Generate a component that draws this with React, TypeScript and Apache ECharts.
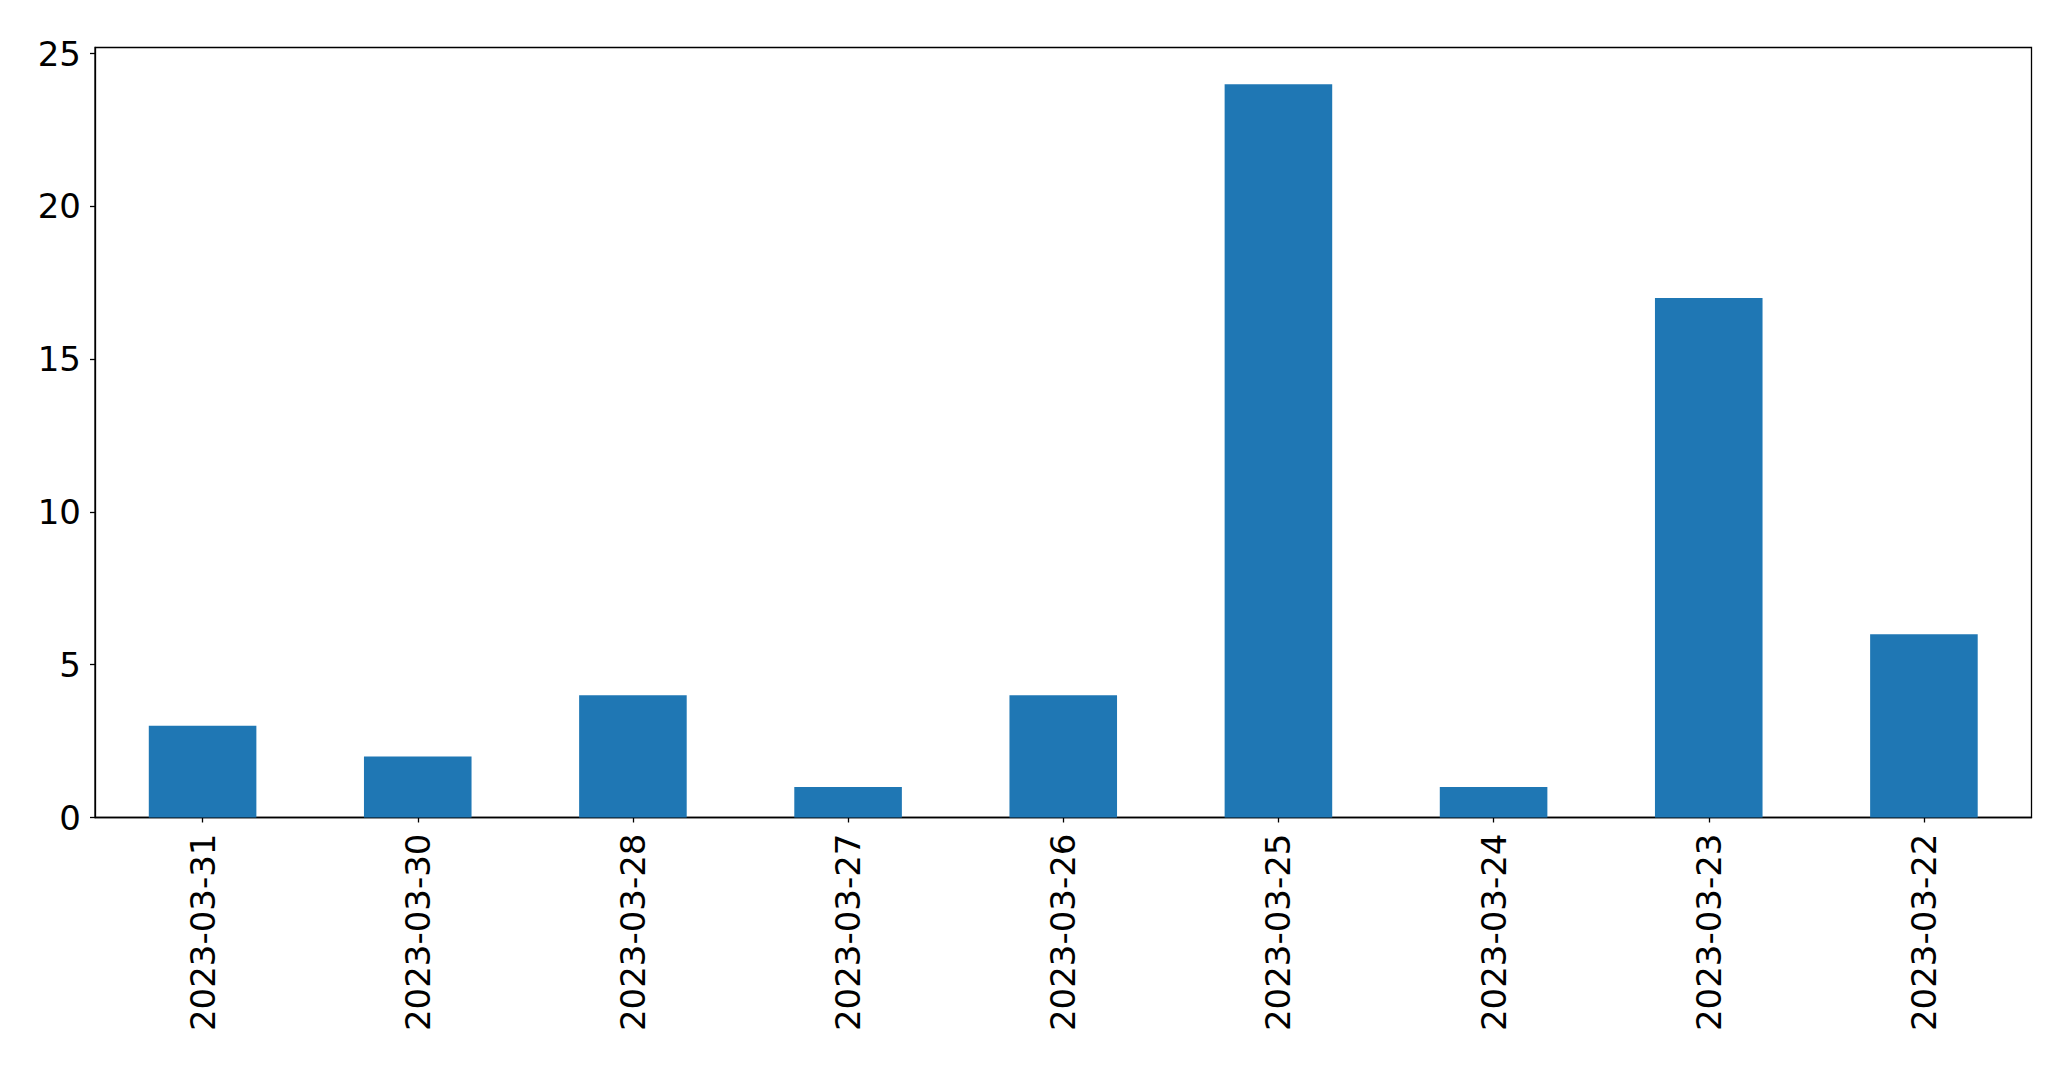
import React, { useEffect, useRef } from "react";
import * as echarts from "echarts";

const categories = [
  "2023-03-31",
  "2023-03-30",
  "2023-03-28",
  "2023-03-27",
  "2023-03-26",
  "2023-03-25",
  "2023-03-24",
  "2023-03-23",
  "2023-03-22",
];
const counts = [3, 2, 4, 1, 4, 24, 1, 17, 6];
const yTicks = [0, 5, 10, 15, 20, 25];
const yMax = 25.2;

const FONT = "'DejaVu Sans', sans-serif";

export default function App() {
  const ref = useRef<HTMLDivElement>(null);
  useEffect(() => {
    if (!ref.current) return;
    const chart = echarts.init(ref.current, undefined, { renderer: "svg" });
    chart.setOption({
      animation: false,
      backgroundColor: "#ffffff",
      grid: {
        left: 95,
        right: 39.5,
        top: 47.5,
        bottom: 251.5,
        show: true,
        borderColor: "#000000",
        borderWidth: 1.3,
        backgroundColor: "transparent",
      },
      xAxis: {
        type: "category",
        data: categories,
        axisLine: { show: true, lineStyle: { color: "#000", width: 1.3 } },
        axisTick: {
          show: true,
          alignWithLabel: true,
          length: 5,
          lineStyle: { color: "#000", width: 1.3 },
        },
        axisLabel: {
          rotate: 90,
          margin: 16,
          color: "#000",
          fontSize: 34,
          fontFamily: FONT,
        },
        splitLine: { show: false },
      },
      yAxis: {
        type: "value",
        min: 0,
        max: yMax,
        interval: 5,
        axisLine: { show: true, lineStyle: { color: "#000", width: 1.3 } },
        axisTick: {
          show: true,
          length: 5,
          customValues: yTicks,
          lineStyle: { color: "#000", width: 1.3 },
        },
        axisLabel: {
          customValues: yTicks,
          margin: 14,
          color: "#000",
          fontSize: 34,
          fontFamily: FONT,
        },
        splitLine: { show: false },
      },
      series: [
        {
          type: "bar",
          data: counts,
          barWidth: "50%",
          itemStyle: { color: "#1f77b4" },
        },
      ],
    });
    return () => chart.dispose();
  }, []);
  return (
    <div
      ref={ref}
      style={{ position: "fixed", left: 0, top: 0, width: 2071, height: 1069 }}
    />
  );
}
